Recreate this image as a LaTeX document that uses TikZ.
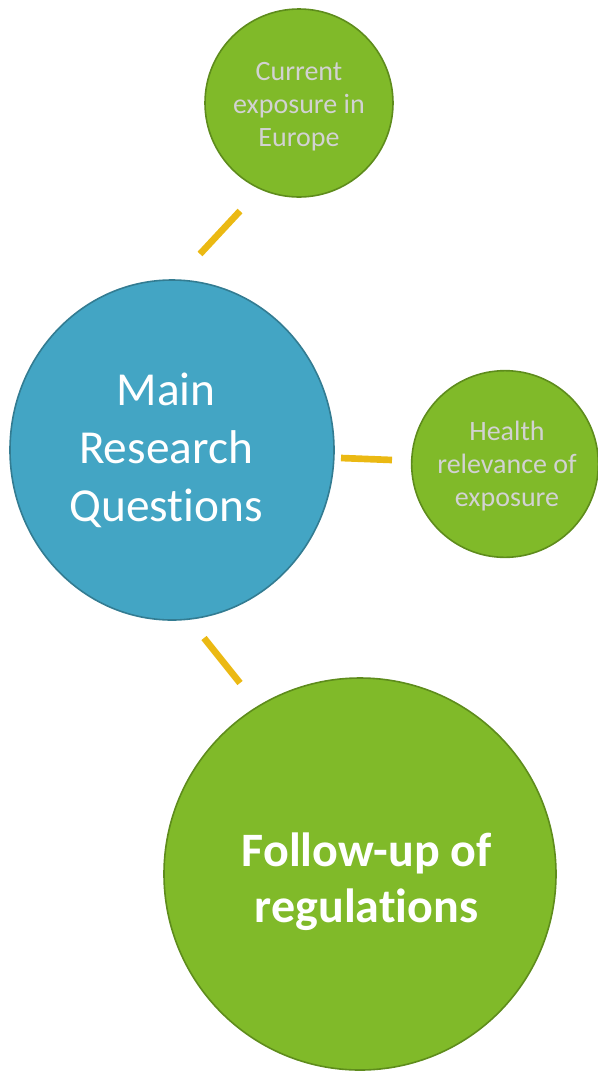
\documentclass[tikz,border=0pt]{standalone}
\usepackage{fontspec}
\setmainfont{Carlito}[RawFeature={-liga}]
\usepackage{tikz}
\usetikzlibrary{shapes.geometric, positioning}

\definecolor{hubblue}{HTML}{43A5C4}
\definecolor{hubedge}{HTML}{337C92}
\definecolor{leafgreen}{HTML}{80BA29}
\definecolor{leafedge}{HTML}{5E8C1C}
\definecolor{linkgold}{HTML}{EBB913}
\definecolor{softtext}{HTML}{D2D2D2}

\begin{document}
\begin{tikzpicture}[
    x=0.75pt, y=-0.75pt,
    hub/.style={ellipse, draw=hubedge, line width=1.2pt, fill=hubblue, minimum width=243pt, minimum height=255pt},
    hubtext/.style={align=center, text=white, font=\fontsize{35.5}{43.5}\selectfont},
    leaf/.style={circle, draw=leafedge, line width=1.2pt, fill=leafgreen, inner sep=0pt},
    leaftext/.style={align=center, text=softtext, font=\fontsize{21}{24.7}\selectfont},
    bigtext/.style={align=center, text=white, font=\fontsize{36}{42}\selectfont\bfseries},
    link/.style={draw=linkgold, line width=5pt}
]
\useasboundingbox (0,0) rectangle (597,1072);

% Centre topic
\node[hub, label={[hubtext, xshift=-4.5pt]center:Main\\Research\\Questions}] (main) at (172,450) {};

% Questions around it
\node[leaf, minimum size=141pt, label={[leaftext, yshift=-3pt]center:Current\\exposure in\\Europe}] (europe) at (299,103) {};
\node[leaf, minimum size=140pt, label={[leaftext, yshift=-1.5pt, xshift=1.5pt]center:Health\\relevance of\\exposure}] (health) at (505,464) {};
\node[leaf, minimum size=294pt, label={[bigtext, xshift=5pt, yshift=-6pt]center:Follow-up of\\regulations}] (rules) at (360,874) {};

% Link ends
\coordinate (e1) at (200,254);
\coordinate (e2) at (240,211);
\coordinate (h1) at (341,458);
\coordinate (h2) at (392,460);
\coordinate (r1) at (204,638);
\coordinate (r2) at (240,683);

% Links
\draw[link] (e1) -- (e2);
\draw[link] (h1) -- (h2);
\draw[link] (r1) -- (r2);

\end{tikzpicture}
\end{document}
